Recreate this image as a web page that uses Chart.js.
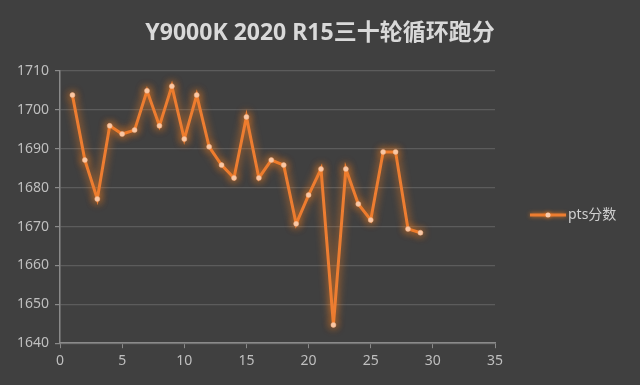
<!DOCTYPE html>
<html>
<head>
<meta charset="utf-8">
<script src="https://cdn.jsdelivr.net/npm/chart.js@4"></script>
<style>
    html, body { margin: 0; padding: 0; background: #404040; }
    #wrap { width: 640px; height: 385px; }
</style>
</head>
<body>
<div id="wrap"><canvas id="scoreChart" width="640" height="385"></canvas></div>
<script>
// R15 loop scores
const rounds = [1, 2, 3, 4, 5, 6, 7, 8, 9, 10, 11, 12, 13, 14, 15, 16, 17, 18, 19, 20, 21, 22, 23, 24, 25, 26, 27, 28, 29];
const scores = [1703.8, 1687.1, 1677.1, 1695.9, 1693.8, 1694.8, 1704.9, 1695.9, 1706.1, 1692.5,
                1703.8, 1690.5, 1685.8, 1682.5, 1698.2, 1682.5, 1687.1, 1685.8, 1670.7, 1678.1,
                1684.8, 1644.7, 1684.8, 1675.8, 1671.7, 1689.2, 1689.2, 1669.4, 1668.4];
const seriesName = 'pts分数';
const chartTitle = 'Y9000K 2020 R15三十轮循环跑分';

const orange = '#ed7d31';
const fontFamily = "'Noto Sans', 'Noto Sans CJK SC', sans-serif";

/**
 * Orange glow round the line, like the Excel effect
 */
const glowPlugin = {
    id: 'glow',
    beforeDatasetsDraw(chart) {
        const ctx = chart.ctx;
        ctx.save();
        ctx.shadowColor = 'rgba(255, 130, 30, 0.95)';
        ctx.shadowBlur = 9;
    },
    afterDatasetsDraw(chart) {
        chart.ctx.restore();
    }
};

/**
 * Title centred on the whole canvas + legend on the right,
 * drawn by hand so the plot width stays fixed
 */
const frameText = {
    id: 'frameText',
    afterDraw(chart) {
        const ctx = chart.ctx;

        ctx.save();
        ctx.fillStyle = '#d9d9d9';
        ctx.font = 'bold 23px ' + fontFamily;
        ctx.textAlign = 'center';
        ctx.textBaseline = 'middle';
        ctx.fillText(chartTitle, 320, 33);
        ctx.restore();

        const y = 215;
        ctx.save();
        ctx.shadowColor = 'rgba(255, 130, 30, 0.8)';
        ctx.shadowBlur = 4;
        ctx.strokeStyle = orange;
        ctx.lineWidth = 3;
        ctx.beginPath();
        ctx.moveTo(530, y);
        ctx.lineTo(566, y);
        ctx.stroke();
        ctx.fillStyle = '#f8cbad';
        ctx.beginPath();
        ctx.arc(548, y, 2.5, 0, Math.PI * 2);
        ctx.fill();
        ctx.restore();

        ctx.save();
        ctx.fillStyle = '#d0d0d0';
        ctx.font = '14px ' + fontFamily;
        ctx.textBaseline = 'middle';
        ctx.fillText(seriesName, 568, y);
        ctx.restore();
    }
};

const ctx = document.getElementById('scoreChart').getContext('2d');
new Chart(ctx, {
    type: 'scatter',
    data: {
        datasets: [{
            label: seriesName,
            data: rounds.map((r, i) => ({ x: r, y: scores[i] })),
            showLine: true,
            borderColor: orange,
            borderWidth: 3,
            pointRadius: 2.5,
            pointBackgroundColor: '#f8cbad',
            pointBorderColor: '#f4b183',
            pointBorderWidth: 0.5,
            tension: 0
        }]
    },
    options: {
        responsive: false,
        animation: false,
        layout: { padding: { left: 0, right: 145, top: 71, bottom: 12 } },
        plugins: {
            legend: { display: false },
            tooltip: { enabled: false },
            title: { display: false }
        },
        scales: {
            x: {
                type: 'linear',
                min: 0,
                max: 35,
                ticks: {
                    stepSize: 5,
                    color: '#bfbfbf',
                    font: { size: 14, family: fontFamily },
                    padding: 4
                },
                grid: {
                    display: true,
                    drawOnChartArea: false,
                    drawTicks: true,
                    tickLength: 5,
                    color: '#8a8a8a'
                },
                border: { color: '#8a8a8a', width: 1.5 }
            },
            y: {
                min: 1640,
                max: 1710,
                afterFit(scale) { scale.width = 60; },
                ticks: {
                    stepSize: 10,
                    color: '#bfbfbf',
                    font: { size: 14, family: fontFamily },
                    padding: 6,
                    callback: (value) => String(value)
                },
                grid: {
                    color: '#5c5c5c',
                    lineWidth: 1.2,
                    tickLength: 5,
                    tickColor: '#8a8a8a'
                },
                border: { color: '#8a8a8a', width: 1.5 }
            }
        }
    },
    plugins: [glowPlugin, frameText, {
        id: 'bg',
        beforeDraw(chart) {
            const c = chart.ctx;
            c.save();
            c.fillStyle = '#404040';
            c.fillRect(0, 0, chart.width, chart.height);
            c.restore();
        }
    }]
});
</script>
</body>
</html>
